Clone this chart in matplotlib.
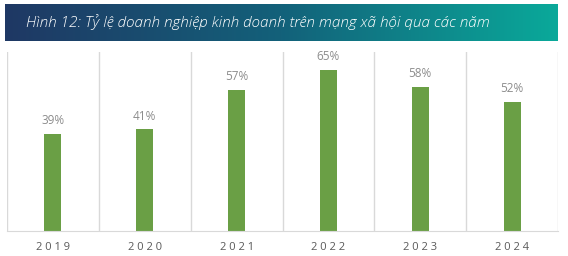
"""
Ty le doanh nghiep kinh doanh tren mang xa hoi qua cac nam
"""

import numpy as np
import matplotlib
matplotlib.use('Agg')
import matplotlib.pyplot as plt
from matplotlib.colors import LinearSegmentedColormap

years = ['2019', '2020', '2021', '2022', '2023', '2024']
share = [39, 41, 57, 65, 58, 52]
title = 'Hình 12: Tỷ lệ doanh nghiệp kinh doanh trên mạng xã hội qua các năm'

plt.rcParams['font.family'] = ['Open Sans', 'DejaVu Sans']

fig = plt.figure(figsize=(5.68, 2.56), dpi=100)

# title banner with a navy -> teal gradient
bax = fig.add_axes([5 / 568, 1 - 41 / 256, 553 / 568, 37 / 256])
cmap = LinearSegmentedColormap.from_list('banner', ['#1f3864', '#13617a', '#0aa99a'])
bax.imshow(np.linspace(0, 1, 256).reshape(1, -1), aspect='auto', cmap=cmap,
           extent=[0, 1, 0, 1])
bax.set_axis_off()
bax.text(21 / 553, 0.5, title, color='white', fontsize=11, style='italic',
         fontweight='light', ha='left', va='center', transform=bax.transAxes)

# bar chart
ax = fig.add_axes([7 / 568, 25 / 256, 551 / 568, 179 / 256])
x = np.arange(len(years))
bars = ax.bar(x, share, width=0.185, color='#6a9f45')
ax.bar_label(bars, labels=[f'{v}%' for v in share], padding=5,
             fontsize=8.5, color='#8c8c8c')

ax.set_xlim(-0.5, len(years) - 0.5)
ax.set_ylim(0, 72.3)
ax.set_xticks(x)
ax.set_xticklabels([' '.join(y) for y in years], fontsize=8, color='#595959')
ax.set_xticks(np.arange(len(years) + 1) - 0.5, minor=True)
ax.tick_params(axis='x', which='both', length=0, pad=8)
ax.set_yticks([])
ax.grid(axis='x', which='minor', color='#d9d9d9', linewidth=1)
ax.set_axisbelow(True)
for side in ['top', 'left', 'right']:
    ax.spines[side].set_visible(False)
ax.spines['bottom'].set_color('#d9d9d9')

fig.savefig('out.png', dpi=100)
